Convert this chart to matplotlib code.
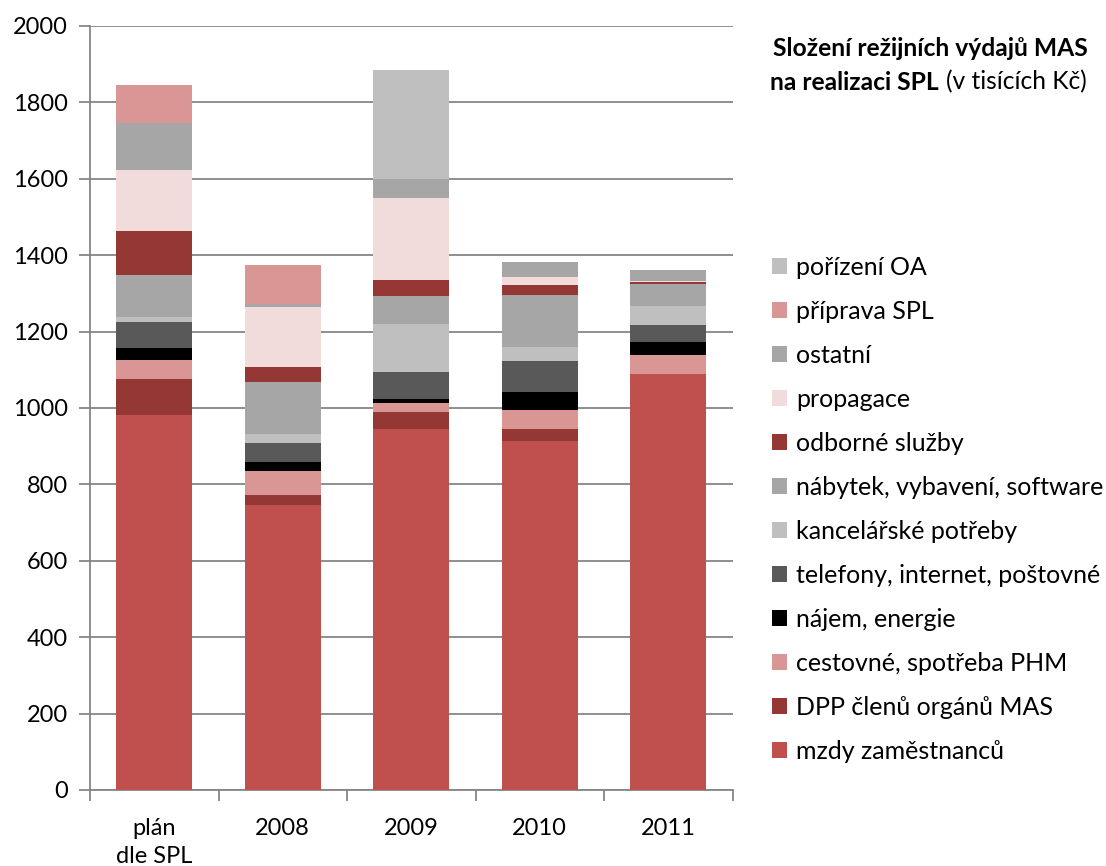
import numpy as np
import matplotlib
matplotlib.use("Agg")
import matplotlib.pyplot as plt
from matplotlib.patches import Patch

plt.rcParams["font.family"] = ["Lato", "DejaVu Sans"]

# ---- data (v tisících Kč) ----
categories = ["plán\ndle SPL", "2008", "2009", "2010", "2011"]

series_names = [
    "mzdy zaměstnanců",
    "DPP členů orgánů MAS",
    "cestovné, spotřeba PHM",
    "nájem, energie",
    "telefony, internet, poštovné",
    "kancelářské potřeby",
    "nábytek, vybavení, software",
    "odborné služby",
    "propagace",
    "ostatní",
    "příprava SPL",
    "pořízení OA",
]

mzdy        = [982, 747, 946, 914, 1089]
dpp         = [94, 25, 44, 30, 0]
cestovne    = [50, 62, 22, 52, 50]
najem       = [32, 24, 11, 46, 33]
telefony    = [66, 50, 70, 81, 46]
kancelarske = [15, 25, 126, 37, 48]
nabytek     = [110, 135, 75, 137, 59]
odborne     = [114, 40, 41, 26, 5]
propagace   = [160, 157, 216, 19, 3]
ostatni     = [122, 8, 48, 40, 28]
priprava    = [100, 101, 0, 0, 0]
porizeni_oa = [0, 0, 286, 0, 0]

series_values = [mzdy, dpp, cestovne, najem, telefony, kancelarske,
                 nabytek, odborne, propagace, ostatni, priprava, porizeni_oa]

colors = ["#C0504D", "#953735", "#D99694", "#000000", "#595959", "#BFBFBF",
          "#A6A6A6", "#953735", "#F2DCDB", "#A6A6A6", "#D99694", "#BFBFBF"]

# ---- figure ----
fig = plt.figure(figsize=(11.06, 8.66), dpi=100)
ax = fig.add_axes([90 / 1106, 1 - 790 / 866, (732.5 - 90) / 1106, (790 - 26) / 866])

x = np.arange(len(categories))
bottom = np.zeros(len(categories))
handles = []
for name, vals, col in zip(series_names, series_values, colors):
    ax.bar(x, vals, width=0.59, bottom=bottom, color=col, linewidth=0, zorder=3)
    bottom += np.array(vals)
    handles.append(Patch(facecolor=col, edgecolor="none", label=name))

ax.set_xlim(-0.5, len(categories) - 0.5)
ax.set_ylim(0, 2000)
ax.set_yticks(np.arange(0, 2001, 200))
ax.yaxis.grid(True, color="#868686", linewidth=1.3, zorder=0)
ax.set_axisbelow(True)

gc = "#868686"
for s in ["top", "right"]:
    ax.spines[s].set_visible(False)
ax.spines["left"].set_color(gc)
ax.spines["bottom"].set_color(gc)
ax.spines["left"].set_linewidth(1.3)
ax.spines["bottom"].set_linewidth(1.3)

# category ticks sit between the bars
ax.set_xticks(np.arange(-0.5, len(categories), 1.0))
ax.set_xticklabels([])
ax.set_xticks(x, minor=True)
ax.set_xticklabels(categories, minor=True, fontsize=17, linespacing=1.4)
ax.tick_params(axis="x", which="major", length=8, color=gc, width=1.3)
ax.tick_params(axis="x", which="minor", length=0, pad=20)
ax.tick_params(axis="y", length=8, color=gc, width=1.3, labelsize=17, pad=8)

# title, right side
fig.text(930 / 1106, 1 - 48 / 866, "Složení režijních výdajů MAS",
         fontsize=17.7, fontweight="bold", ha="center", va="center")
fig.text(939 / 1106, 1 - 82 / 866, "na realizaci SPL",
         fontsize=17.7, fontweight="bold", ha="right", va="center")
fig.text(946 / 1106, 1 - 82 / 866, "(v tisících Kč)",
         fontsize=17.7, ha="left", va="center")

fig.legend(handles=handles[::-1], loc="upper left",
           bbox_to_anchor=(772 / 1106, 1 - 256 / 866),
           frameon=False, fontsize=18, handlelength=0.6, handleheight=0.6,
           handletextpad=0.35, labelspacing=0.84, borderaxespad=0, borderpad=0)

fig.savefig("out.png", dpi=100)
